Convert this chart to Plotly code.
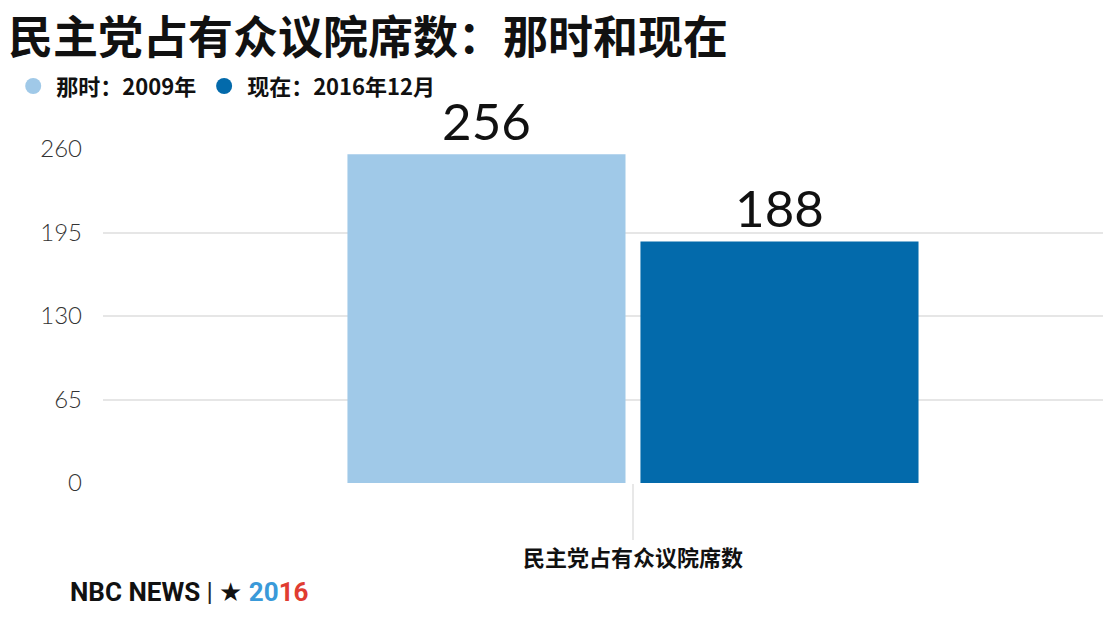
import plotly.graph_objects as go

# Data
category = ["民主党占有众议院席数"]
series_names = ["那时：2009年", "现在：2016年12月"]
then_values = [256]
now_values = [188]
colors = ["#a0c9e8", "#036aab"]
y_ticks = [0, 65, 130, 195, 260]

CJK = "Noto Sans CJK SC"
NUM = "Lato"

fig = go.Figure()

for name, vals, col in zip(series_names, [then_values, now_values], colors):
    # bar itself
    fig.add_trace(
        go.Bar(
            x=category,
            y=vals,
            marker_color=col,
            marker_line_width=0,
            text=vals,
            textposition="outside",
            textfont=dict(family=NUM, size=51, color="#111111", weight=400),
            cliponaxis=False,
            showlegend=False,
            hoverinfo="y",
        )
    )

# legend entries drawn as circles
for name, col in zip(series_names, colors):
    fig.add_trace(
        go.Scatter(
            x=[None], y=[None], mode="markers", name=name,
            marker=dict(color=col, size=18, symbol="circle"),
        )
    )

# page body has an 8px margin, so the figure is sized to fit the window
fig.update_layout(
    width=1103,
    height=611,
    paper_bgcolor="white",
    plot_bgcolor="white",
    margin=dict(l=95, r=0, t=141, b=136, autoexpand=False),
    barmode="group",
    bargap=0.0233,
    bargroupgap=0.051,
    title=dict(
        text="<b>民主党占有众议院席数：那时和现在</b>",
        font=dict(family=CJK, size=45, color="#111111", weight=900),
        x=0.0, xanchor="left", xref="container",
        y=0.95, yanchor="middle", yref="container",
    ),
    legend=dict(
        orientation="h",
        x=0.002, xanchor="left", xref="container",
        y=0.872, yanchor="middle", yref="container",
        font=dict(family=CJK, size=22, color="#111111", weight=700),
        itemsizing="trace",
        itemwidth=36,
    ),
    xaxis=dict(
        type="category",
        range=[-0.8833, 0.7967],
        showgrid=False,
        ticks="outside",
        ticklen=56,
        tickwidth=2,
        tickcolor="#e8e8e8",
        tickfont=dict(family=CJK, size=22, color="#111111", weight=700),
        showline=False,
        zeroline=False,
    ),
    yaxis=dict(
        range=[0, 260],
        tickvals=y_ticks,
        showgrid=True,
        gridcolor="#e6e6e6",
        gridwidth=2,
        zeroline=False,
        showline=False,
        ticks="",
        ticklabelstandoff=20,
        tickfont=dict(family=NUM, size=24, color="#333333", weight=300),
    ),
    font=dict(family=CJK),
)

# footer logo text
fig.add_annotation(
    text="<b>NBC NEWS</b> <span style='color:#222'>|</span> ★ "
         "<b><span style='color:#3a9ad9'>20</span><span style='color:#e03c31'>16</span></b>",
    xref="paper", yref="paper",
    x=-0.035, xanchor="left",
    y=-0.326, yanchor="middle",
    showarrow=False,
    font=dict(family="Roboto", size=26, color="#111111"),
)

fig.write_html("out.html")
